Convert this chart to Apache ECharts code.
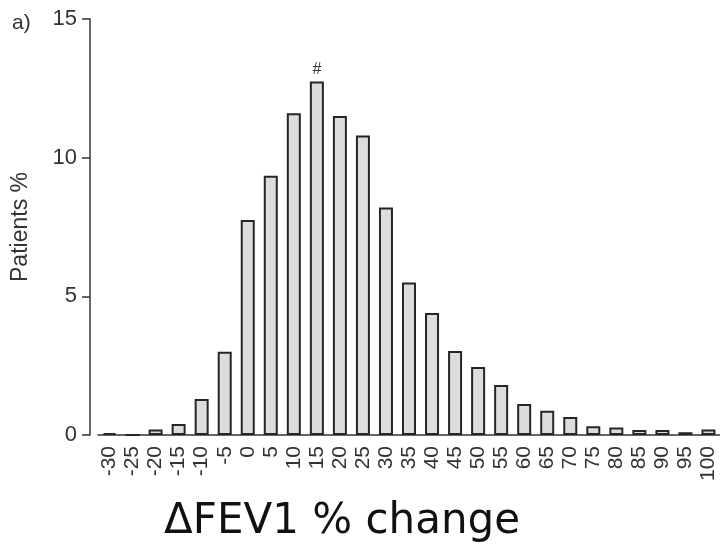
<!DOCTYPE html>
<html>
<head>
<meta charset="utf-8">
<script src="https://cdn.jsdelivr.net/npm/echarts@6/dist/echarts.min.js"></script>
<style>html,body{margin:0;padding:0;background:#fff;}#chart{width:720px;height:554px;}</style>
</head>
<body>
<div id="chart"></div>
<script>
var categories = ['-30','-25','-20','-15','-10','-5','0','5','10','15','20','25','30','35','40','45','50','55','60','65','70','75','80','85','90','95','100'];
var patientsPct = [0.07,0,0.2,0.4,1.3,3.0,7.75,9.35,11.6,12.75,11.5,10.8,8.2,5.5,4.4,3.03,2.45,1.8,1.12,0.87,0.65,0.32,0.27,0.18,0.18,0.1,0.2];
var yTicks = [0,5,10,15];
var markedCategory = '15';

var chart = echarts.init(document.getElementById('chart'), null, {renderer:'canvas'});
var data = patientsPct.map(function(v,i){
  var item = {value:v};
  if (categories[i] === markedCategory) {
    item.label = {show:true, position:'top', formatter:'#', fontSize:16, color:'#333', distance:4, fontFamily:'Liberation Sans'};
  }
  return item;
});
chart.setOption({
  animation:false,
  backgroundColor:'#fff',
  grid:{left:98, top:19, width:624, height:416},
  title:{text:'ΔFEV1 % change', left:159, top:496, textStyle:{fontFamily:'DejaVu Sans', fontWeight:'normal', fontSize:42, color:'#111'}},
  graphic:[{type:'text', left:12, top:13, style:{text:'a)', fontFamily:'Liberation Sans', fontSize:21, fill:'#333'}}],
  xAxis:{
    type:'category', data:categories,
    axisLine:{lineStyle:{color:'#333', width:1.5}},
    axisTick:{alignWithLabel:true, length:7, lineStyle:{color:'#333', width:1.5}},
    axisLabel:{rotate:90, interval:0, margin:11, fontSize:21, color:'#333', fontFamily:'Liberation Sans'}
  },
  yAxis:{
    type:'value', min:0, max:15, interval:5, offset:8,
    name:'Patients %', nameLocation:'middle', nameGap:58, nameRotate:90,
    nameTextStyle:{fontSize:23, color:'#333', fontFamily:'Liberation Sans'},
    axisLine:{show:true, lineStyle:{color:'#333', width:1.5}},
    axisTick:{show:true, length:8, lineStyle:{color:'#333', width:1.5}},
    axisLabel:{fontSize:22, color:'#333', margin:13, fontFamily:'Liberation Sans'},
    splitLine:{show:false}
  },
  series:[{
    type:'bar', data:data, barWidth:14,
    itemStyle:{color:'#dcdddf', borderColor:'#262626', borderWidth:2}
  }]
});
</script>
</body>
</html>
